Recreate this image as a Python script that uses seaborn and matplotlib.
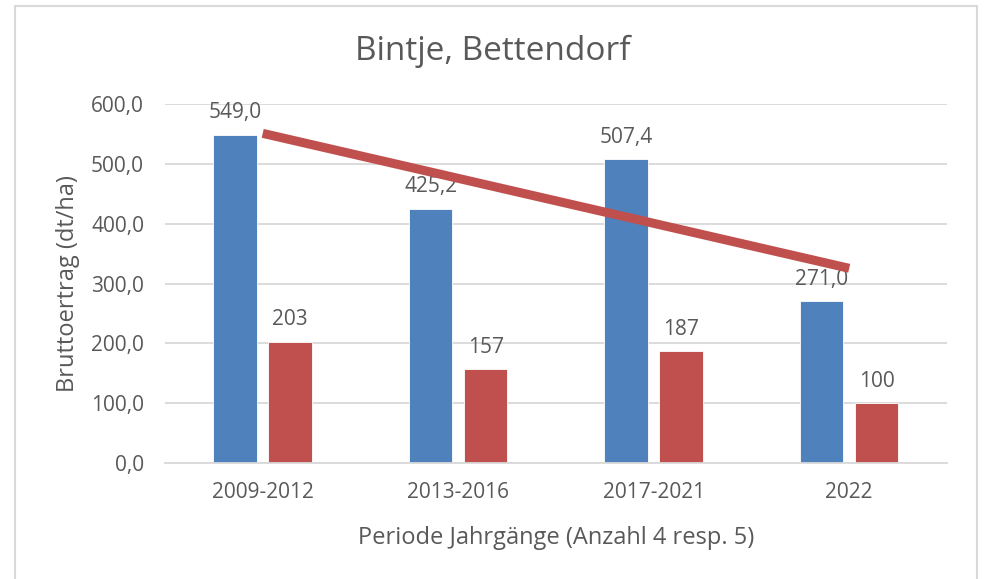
import numpy as np
import pandas as pd
import matplotlib
matplotlib.use("Agg")
import matplotlib.pyplot as plt
import seaborn as sns
from matplotlib.patches import Rectangle

# ---- data ----
categories = ["2009-2012", "2013-2016", "2017-2021", "2022"]
brutto = [549.0, 425.2, 507.4, 271.0]
second = [203, 157, 187, 100]
yticks = [0, 100, 200, 300, 400, 500, 600]

title = "Bintje, Bettendorf"
ylabel = "Bruttoertrag (dt/ha)"
xlabel = "Periode Jahrgänge (Anzahl 4 resp. 5)"

BLUE = "#4F81BD"
RED = "#C0504D"
TXT = "#595959"
GRID = "#D9D9D9"
FS = 15

sns.set_theme(style="white")
plt.rcParams["font.family"] = ["Open Sans", "DejaVu Sans"]

df = pd.DataFrame({
    "Periode": categories * 2,
    "Wert": brutto + second,
    "Serie": ["Brutto"] * len(categories) + ["Zweit"] * len(categories),
})

fig = plt.figure(figsize=(9.86, 5.79), dpi=100)
ax = fig.add_axes([0.1673, 0.2003, 0.7931, 0.6201])

sns.barplot(data=df, x="Periode", y="Wert", hue="Serie", order=categories,
            hue_order=["Brutto", "Zweit"], palette=[BLUE, RED], saturation=1,
            width=0.563, gap=0.21, dodge=True, legend=False, ax=ax,
            edgecolor="white", linewidth=0.6, zorder=2)

# labels
c0, c1 = ax.containers[0], ax.containers[1]
ax.bar_label(c0, labels=[f"{v:.1f}".replace(".", ",") for v in brutto],
             padding=8, fontsize=FS, color=TXT)
ax.bar_label(c1, labels=[f"{v:d}" for v in second],
             padding=8, fontsize=FS, color=TXT)

# linear trend of first series
xs = np.arange(len(brutto))
coef = np.polyfit(xs, brutto, 1)
ax.plot(xs, np.polyval(coef, xs), color=RED, lw=6.5, solid_capstyle="butt", zorder=3)

ax.set_ylim(0, 600)
ax.set_xlim(-0.5, len(categories) - 0.5)
ax.set_yticks(yticks)
ax.set_yticklabels([f"{v:.1f}".replace(".", ",") for v in yticks])
ax.yaxis.grid(True, color=GRID, lw=1.3, zorder=0)
ax.set_axisbelow(True)
for s in ["top", "right", "left"]:
    ax.spines[s].set_visible(False)
ax.spines["bottom"].set_color(GRID)
ax.spines["bottom"].set_linewidth(1.3)
ax.tick_params(axis="both", length=0, labelsize=FS, labelcolor=TXT)
ax.tick_params(axis="x", pad=13.5)
ax.tick_params(axis="y", pad=15)

ax.set_xlabel(xlabel, fontsize=17, color=TXT, labelpad=17)
ax.set_ylabel(ylabel, fontsize=17, color=TXT, labelpad=8)
fig.text(0.5, 0.912, title, ha="center", va="center", fontsize=24, color=TXT)

# chart border
fig.patches.append(Rectangle((15 / 986, -0.05), (977 - 15) / 986, 1.05 - 6 / 579,
                             transform=fig.transFigure, fill=False,
                             edgecolor="#D9D9D9", lw=1.5))

fig.savefig("out.png", dpi=100)
